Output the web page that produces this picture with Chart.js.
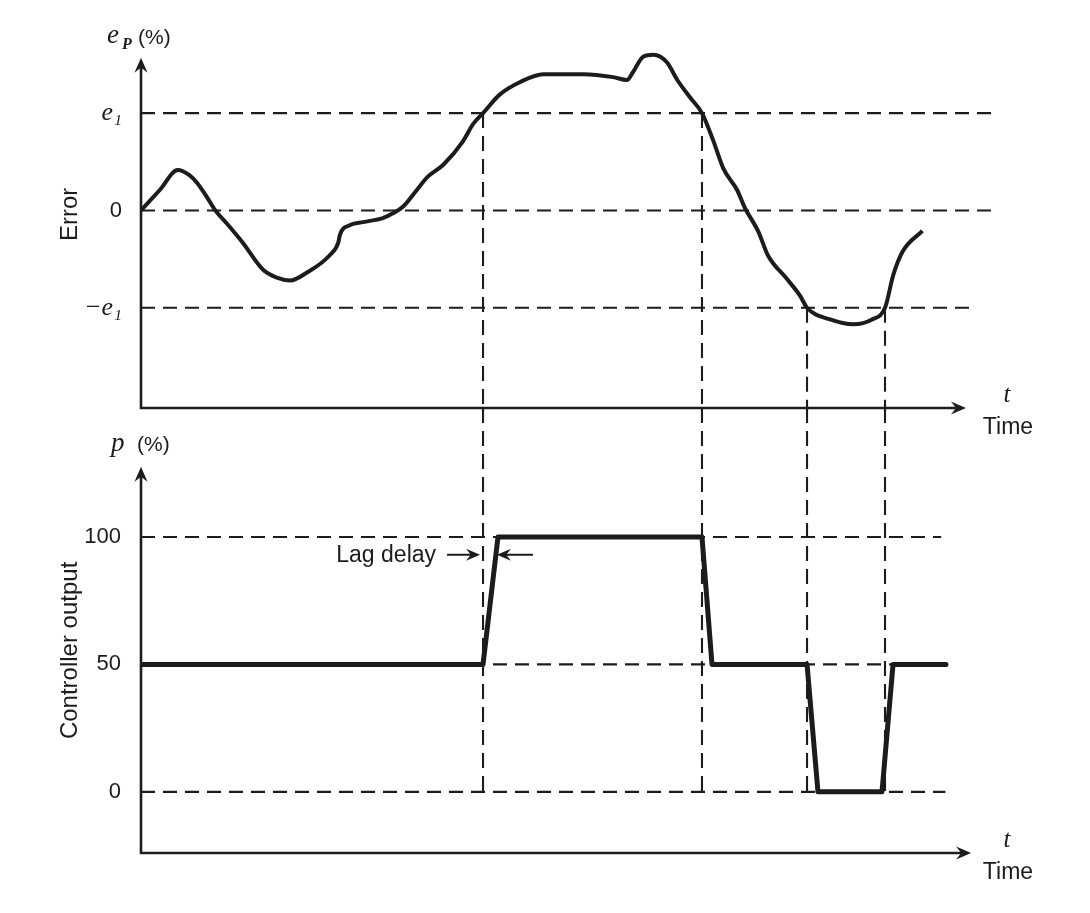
<!DOCTYPE html>
<html>
<head>
<meta charset="utf-8">
<title>Two-position control with lag</title>
<script src="https://cdn.jsdelivr.net/npm/chart.js@4.4.1/dist/chart.umd.min.js"></script>
<style>
  html, body { margin: 0; padding: 0; background: #fff; }
</style>
</head>
<body>
<canvas id="chart" width="1090" height="913"></canvas>
<script>
// time runs 0..100 (arbitrary units) on both plots
const errTimes = [0, 2.2, 4.3, 5.7, 6.6, 7.7, 8.7, 10.2, 11.9, 14.3,
  15.9, 17.5, 19.4, 22.1, 23.1, 23.3, 24.5, 26.0, 28.3, 29.5,
  30.7, 32.3, 33.5, 35.4, 37.7, 38.9, 40.05, 42.0, 44.4, 47.1,
  51.8, 55.3, 56.9, 57.6, 58.8, 60.0, 61.6, 62.8, 64.3, 65.69,
  67.0, 68.2, 69.8, 70.7, 72.3, 73.4, 75.6, 77.2, 77.99,
  80.7, 83.4, 85.6, 87.12, 88.1, 89.2, 91.5];
// error in units of e1
const errValues = [0, 0.21, 0.415, 0.36, 0.28, 0.14, 0, -0.15, -0.33, -0.61,
  -0.69, -0.72, -0.64, -0.46, -0.33, -0.25, -0.15, -0.12, -0.08, -0.03,
  0.04, 0.21, 0.34, 0.47, 0.71, 0.89, 1.0, 1.19, 1.32, 1.40,
  1.40, 1.37, 1.34, 1.42, 1.58, 1.60, 1.52, 1.34, 1.16, 1.0,
  0.72, 0.43, 0.21, 0.03, -0.22, -0.46, -0.70, -0.88, -1.0,
  -1.12, -1.17, -1.12, -1.0, -0.66, -0.42, -0.21];

// controller output p (%)
const outTimes = [0, 40.05, 41.8, 65.69, 66.86, 77.99, 79.27, 86.77, 88.06, 94.26];
const outValues = [50, 50, 100, 100, 50, 50, 0, 0, 50, 50];

// moments where the error crosses +e1 / -e1
const switchTimes = [40.05, 65.69, 77.99, 87.12];
const switchLevels = [1, 1, -1, -1];

// dashed reference levels and where they stop
const errLevels = [1, 0, -1];
const errLevelEnds = [100, 99.8, 97.3];
const outLevels = [100, 50, 0];
const outLevelEnds = [93.7, 94.2, 94.2];

const errTicks = [1, 0, -1];
const errTickLabels = ['e₁', '0', '−e₁'];
const outTicks = [100, 50, 0];
const outTickLabels = ['100', '50', '0'];

const tMax = 100;
const errMin = -2.03, errMax = 1.70, errArrow = 1.57;
const outMin = -24, outMax = 150.6, outArrow = 127.5;
const tArrowTop = 96.6, tArrowBottom = 97.2;
const lagLevel = 93;

const INK = '#1c1c1c';
const SANS = '"Liberation Sans", Arial, sans-serif';
const SERIF = '"Liberation Serif", "Times New Roman", serif';

const levelLines = (levels, ends) => {
  const pts = [];
  levels.forEach((lv, i) => {
    pts.push({ x: 0, y: lv }, { x: ends[i], y: lv }, { x: ends[i], y: null });
  });
  return pts;
};

const topDrops = [];
const bottomDrops = [];
switchTimes.forEach((t, i) => {
  topDrops.push({ x: t, y: switchLevels[i] }, { x: t, y: errMin }, { x: t, y: null });
  bottomDrops.push({ x: t, y: outMax }, { x: t, y: 0 }, { x: t, y: null });
});

const dashed = (data, axis, dash) => ({
  data,
  yAxisID: axis,
  borderColor: INK,
  borderWidth: 2.1,
  borderDash: dash,
  pointRadius: 0,
  spanGaps: false,
  tension: 0,
  order: 2,
});

const arrowHead = (ctx, x, y, angle, len = 15, half = 6.5) => {
  ctx.save();
  ctx.translate(x, y);
  ctx.rotate(angle);
  ctx.beginPath();
  ctx.moveTo(0, 0);
  ctx.lineTo(-len, -half);
  ctx.lineTo(-len * 0.66, 0);
  ctx.lineTo(-len, half);
  ctx.closePath();
  ctx.fill();
  ctx.restore();
};

const axesAndNotes = {
  id: 'axesAndNotes',
  beforeDatasetsDraw(chart) {
    const { ctx, chartArea } = chart;
    const x = chart.scales.x;
    const left = chartArea.left;
    ctx.save();
    ctx.strokeStyle = INK;
    ctx.fillStyle = INK;
    ctx.lineWidth = 2.6;
    [
      [chart.scales.yErr, errArrow, tArrowTop],
      [chart.scales.yOut, outArrow, tArrowBottom],
    ].forEach(([y, yEnd, tEnd]) => {
      const base = y.bottom;
      const top = y.getPixelForValue(yEnd);
      const right = x.getPixelForValue(tEnd);
      ctx.beginPath();
      ctx.moveTo(left, top + 8);
      ctx.lineTo(left, base);
      ctx.lineTo(right - 8, base);
      ctx.stroke();
      arrowHead(ctx, left, top, -Math.PI / 2);
      arrowHead(ctx, right, base, 0);
    });
    ctx.restore();
  },
  afterDatasetsDraw(chart) {
    const { ctx } = chart;
    const x = chart.scales.x;
    const yErr = chart.scales.yErr;
    const yOut = chart.scales.yOut;
    ctx.save();
    ctx.fillStyle = INK;
    ctx.strokeStyle = INK;
    ctx.textBaseline = 'alphabetic';

    // e_P (%)
    ctx.textAlign = 'left';
    ctx.font = `italic 27px ${SERIF}`;
    ctx.fillText('e', 107, 43);
    ctx.font = `italic bold 16px ${SERIF}`;
    ctx.fillText('P', 122, 49);
    ctx.font = `21px ${SANS}`;
    ctx.fillText('(%)', 138, 44);

    // p (%)
    ctx.font = `italic 27px ${SERIF}`;
    ctx.fillText('p', 111, 451);
    ctx.font = `21px ${SANS}`;
    ctx.fillText('(%)', 137, 451);

    // rotated axis titles
    ctx.textAlign = 'center';
    ctx.textBaseline = 'middle';
    ctx.font = `24px ${SANS}`;
    [['Error', yErr.getPixelForValue(0) + 4], ['Controller output', yOut.getPixelForValue(50) - 14]].forEach(([txt, cy]) => {
      ctx.save();
      ctx.translate(70, cy);
      ctx.rotate(-Math.PI / 2);
      ctx.fillText(txt, 0, 0);
      ctx.restore();
    });

    // t / Time at the end of each time axis
    [yErr.bottom, yOut.bottom].forEach((base) => {
      ctx.font = `italic 25px ${SERIF}`;
      ctx.fillText('t', 1007, base - 13);
      ctx.font = `23px ${SANS}`;
      ctx.fillText('Time', 1008, base + 20);
    });

    // lag delay marker
    const ly = yOut.getPixelForValue(lagLevel);
    const a = x.getPixelForValue(switchTimes[0]) - 3;
    const b = x.getPixelForValue(outTimes[2]) - 1;
    ctx.lineWidth = 2;
    ctx.beginPath();
    ctx.moveTo(a - 33, ly);
    ctx.lineTo(a - 8, ly);
    ctx.moveTo(b + 36, ly);
    ctx.lineTo(b + 8, ly);
    ctx.stroke();
    arrowHead(ctx, a, ly, 0, 14, 6);
    arrowHead(ctx, b, ly, Math.PI, 14, 6);
    ctx.textAlign = 'right';
    ctx.font = `23px ${SANS}`;
    ctx.fillText('Lag delay', a - 44, ly + 1);
    ctx.restore();
  },
};

const ctx = document.getElementById('chart').getContext('2d');

const chart = new Chart(ctx, {
  type: 'line',
  data: {
    datasets: [
      {
        data: errTimes.map((t, i) => ({ x: t, y: errValues[i] })),
        yAxisID: 'yErr',
        borderColor: INK,
        borderWidth: 4,
        pointRadius: 0,
        cubicInterpolationMode: 'monotone',
        order: 0,
      },
      {
        data: outTimes.map((t, i) => ({ x: t, y: outValues[i] })),
        yAxisID: 'yOut',
        borderColor: INK,
        borderWidth: 5,
        borderJoinStyle: 'round',
        borderCapStyle: 'round',
        pointRadius: 0,
        tension: 0,
        order: 0,
      },
      dashed(levelLines(errLevels, errLevelEnds), 'yErr', [14, 8]),
      dashed(levelLines(outLevels, outLevelEnds), 'yOut', [14, 8]),
      dashed(topDrops, 'yErr', [15, 8]),
      dashed(bottomDrops, 'yOut', [15, 8]),
    ],
  },
  options: {
    responsive: false,
    devicePixelRatio: 1,
    animation: false,
    layout: { padding: { left: 0, right: 95, top: 45, bottom: 60 } },
    plugins: { legend: { display: false }, tooltip: { enabled: false } },
    scales: {
      x: { type: 'linear', min: 0, max: tMax, display: false },
      yOut: {
        type: 'linear',
        position: 'left',
        stack: 'panels',
        stackWeight: 445,
        min: outMin,
        max: outMax,
        grid: { display: false },
        border: { display: false },
        afterFit: (s) => { s.width = 141; },
        afterBuildTicks: (s) => { s.ticks = outTicks.map((v) => ({ value: v })); },
        ticks: {
          padding: 12,
          color: INK,
          font: { family: SANS, size: 22 },
          callback: (v) => outTickLabels[outTicks.indexOf(v)],
        },
      },
      yErr: {
        type: 'linear',
        position: 'left',
        stack: 'panels',
        stackWeight: 363,
        min: errMin,
        max: errMax,
        grid: { display: false },
        border: { display: false },
        afterFit: (s) => { s.width = 141; },
        afterBuildTicks: (s) => { s.ticks = errTicks.map((v) => ({ value: v })); },
        ticks: {
          padding: 11,
          color: INK,
          font: (c) => (c.tick && c.tick.value !== 0
            ? { family: SERIF, size: 26, style: 'italic' }
            : { family: SANS, size: 22 }),
          callback: (v) => errTickLabels[errTicks.indexOf(v)],
        },
      },
    },
  },
  plugins: [axesAndNotes],
});
</script>
</body>
</html>
